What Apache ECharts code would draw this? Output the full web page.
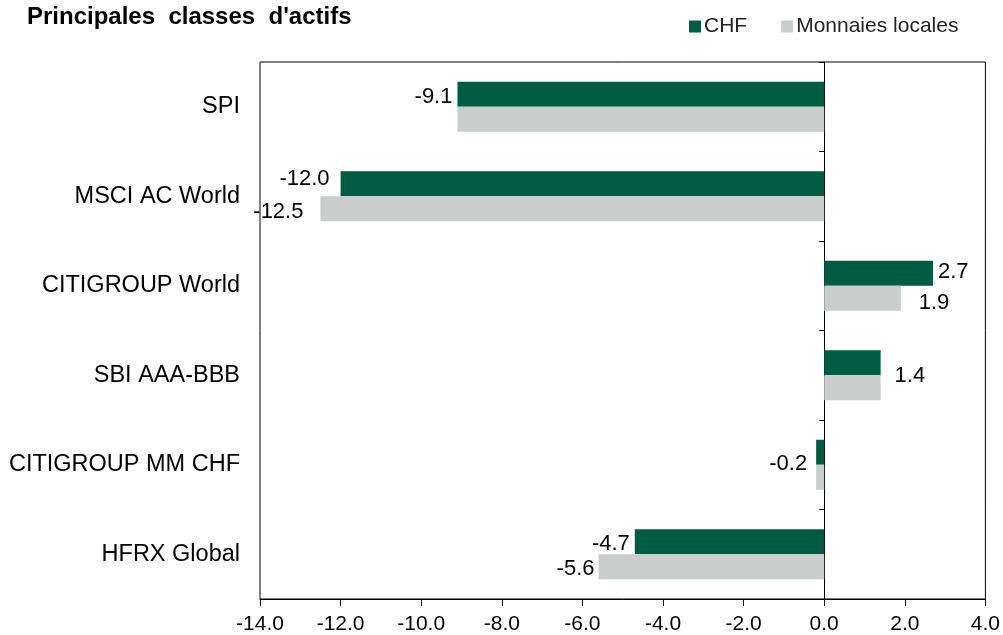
<!DOCTYPE html>
<html>
<head>
<meta charset="utf-8">
<script src="https://cdn.jsdelivr.net/npm/echarts@6/dist/echarts.min.js"></script>
<style>
    html, body { margin: 0; padding: 0; background: #fff; }
    #chart { width: 1003px; height: 635px; }
</style>
</head>
<body>
<div id="chart"></div>
<script>
const categories = ['SPI', 'MSCI AC World', 'CITIGROUP World', 'SBI AAA-BBB', 'CITIGROUP MM CHF', 'HFRX Global'];
const chfValues = [-9.1, -12.0, 2.7, 1.4, -0.2, -4.7];
const localValues = [-9.1, -12.5, 1.9, 1.4, -0.2, -5.6];
const xMin = -14;
const xMax = 4;
const xStep = 2;

// label placement tweaks (Excel put them a bit everywhere)
const chfLabelPos = [
    { show: true, distance: 5, dy: 3 },
    { show: true, distance: 11, dy: -5 },
    { show: true, distance: 5, dy: -1 },
    { show: true, distance: 14, dy: 13 },
    { show: true, distance: 9, dy: 12 },
    { show: true, distance: 5, dy: 2 }
];
const localLabelPos = [
    { show: false },
    { show: true, distance: 17, dy: 3 },
    { show: true, distance: 18, dy: 5 },
    { show: false },
    { show: false },
    { show: true, distance: 4, dy: 2 }
];

const FONT = '"Liberation Sans", Arial, sans-serif';
const GREEN = '#005c42';
const GREY = '#c9cecd';

function buildData(values, labelPos) {
    return values.map(function (v, i) {
        let p = labelPos[i];
        return {
            value: v,
            label: {
                show: p.show,
                position: v < 0 ? 'left' : 'right',
                distance: p.distance || 5,
                offset: [0, p.dy || 0]
            }
        };
    });
}

function getOption() {
    let option = {
        animation: false,
        backgroundColor: '#fff',
        textStyle: { fontFamily: FONT },
        title: {
            text: 'Principales  classes  d\'actifs',
            left: 22,
            top: 0,
            textStyle: {
                fontFamily: FONT,
                fontSize: 24,
                fontWeight: 'bold',
                color: '#000'
            }
        },
        legend: {
            left: 684,
            top: 11,
            itemWidth: 12,
            itemHeight: 12,
            itemGap: 34,
            icon: 'rect',
            textStyle: {
                fontFamily: FONT,
                fontSize: 21,
                color: '#222',
                padding: [0, 0, 0, -2]
            },
            data: ['CHF', 'Monnaies locales']
        },
        grid: {
            show: true,
            left: 260,
            right: 17,
            top: 62,
            bottom: 35,
            borderColor: '#000',
            borderWidth: 1
        },
        xAxis: {
            type: 'value',
            min: xMin,
            max: xMax,
            interval: xStep,
            splitLine: { show: false },
            axisLine: { show: true, onZero: false, lineStyle: { color: '#000', width: 1 } },
            axisTick: { show: true, length: 7, lineStyle: { color: '#000' } },
            axisLabel: {
                fontFamily: FONT,
                fontSize: 21,
                color: '#000',
                margin: 15,
                formatter: function (v) { return v.toFixed(1); }
            }
        },
        yAxis: [
            {
                type: 'category',
                data: categories,
                inverse: true,
                position: 'left',
                axisLine: { show: false, onZero: false },
                axisTick: { show: false },
                axisLabel: {
                    fontFamily: FONT,
                    fontSize: 23.5,
                    color: '#000',
                    margin: 20
                }
            },
            {
                type: 'category',
                data: categories,
                inverse: true,
                position: 'left',
                axisLine: { show: true, onZero: true, lineStyle: { color: '#000', width: 1 } },
                axisTick: { show: true, length: 5, lineStyle: { color: '#000' } },
                axisLabel: { show: false }
            }
        ],
        series: [
            {
                name: 'CHF',
                type: 'bar',
                yAxisIndex: 0,
                barWidth: 25,
                barGap: '0%',
                itemStyle: { color: GREEN },
                label: {
                    fontFamily: FONT,
                    fontSize: 22,
                    color: '#000',
                    formatter: function (p) { return p.value.toFixed(1); }
                },
                data: buildData(chfValues, chfLabelPos)
            },
            {
                name: 'Monnaies locales',
                type: 'bar',
                yAxisIndex: 0,
                barWidth: 25,
                barGap: '0%',
                itemStyle: { color: GREY },
                label: {
                    fontFamily: FONT,
                    fontSize: 22,
                    color: '#000',
                    formatter: function (p) { return p.value.toFixed(1); }
                },
                data: buildData(localValues, localLabelPos)
            }
        ]
    };
    return option;
}

let myChart = echarts.init(document.getElementById('chart'));
myChart.setOption(getOption());
</script>
</body>
</html>
